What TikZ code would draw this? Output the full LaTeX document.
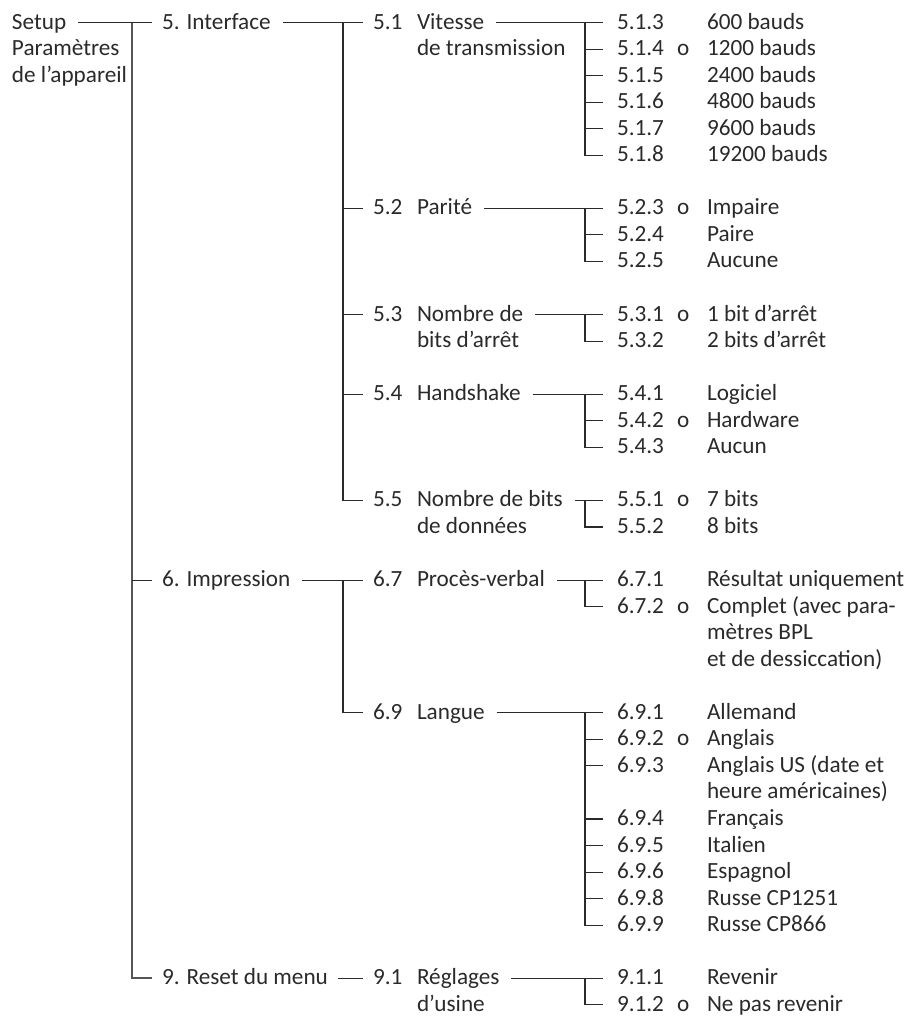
\documentclass[tikz,border=0pt]{standalone}
\usepackage{fontspec}
\setmainfont{Carlito}
\definecolor{ink}{HTML}{2A2A2A}
\newcommand\rowy[1]{\fpeval{29+26.55*(#1)}}
\newcommand\tickto[3]{\draw[conn] ([xshift=#2pt,yshift=6.5pt]#1.base west) -- ([xshift=#3pt,yshift=6.5pt]#1.base west);}
\newcommand\leafrow[4]{%
  \node[txt] (#1) at (617,\rowy{#2}) {#3};
  \node[txt] (#1v) at (707,\rowy{#2}) {#4};}
\newcommand\grouplines[3]{%
  \draw[conn] ([xshift=12pt,yshift=6.5pt]#1.base east) -- ([xshift=-14pt,yshift=6.5pt]#2.base west);
  \draw[conn] ([xshift=-32pt,yshift=6.5pt]#2.base west) -- ([xshift=-32pt,yshift=6.5pt]#3.base west) -- ([xshift=-14pt,yshift=6.5pt]#3.base west);}
\begin{document}
\begin{tikzpicture}[x=1pt,y=-1pt,
  txt/.style={anchor=base west,inner sep=0pt,outer sep=0pt,text=ink,font=\fontsize{23.2}{26.55}\selectfont},
  conn/.style={draw=ink,line width=1.1pt},
  maintrunk/.style={draw=ink!80,line width=1.7pt}]
\useasboundingbox (0,0) rectangle (908,1017);

% ---------- level 0
\node[txt] (setup)  at (12,\rowy{0}) {Setup};
\node[txt] (setupb) at (12,\rowy{1}) {Paramètres};
\node[txt] (setupc) at (12,\rowy{2}) {de l’appareil};

% ---------- level 1
\node[txt] (l5) at (162,\rowy{0})  {5. Interface};
\node[txt] (l6) at (162,\rowy{21}) {6. Impression};
\node[txt] (l9) at (162,\rowy{36}) {9. Reset du menu};

% ---------- level 2
\node[txt] (n51) at (373,\rowy{0})  {5.1};
\node[txt] (t51) at (417,\rowy{0})  {Vitesse};
\node[txt] (t51b) at (417,\rowy{1}) {de transmission};
\node[txt] (n52) at (373,\rowy{7})  {5.2};
\node[txt] (t52) at (417,\rowy{7})  {Parité};
\node[txt] (n53) at (373,\rowy{11}) {5.3};
\node[txt] (t53) at (417,\rowy{11}) {Nombre de};
\node[txt] (t53b) at (417,\rowy{12}) {bits d’arrêt};
\node[txt] (n54) at (373,\rowy{14}) {5.4};
\node[txt] (t54) at (417,\rowy{14}) {Handshake};
\node[txt] (n55) at (373,\rowy{18}) {5.5};
\node[txt] (t55) at (417,\rowy{18}) {Nombre de bits};
\node[txt] (t55b) at (417,\rowy{19}) {de données};
\node[txt] (n67) at (373,\rowy{21}) {6.7};
\node[txt] (t67) at (417,\rowy{21}) {Procès-verbal};
\node[txt] (n69) at (373,\rowy{26}) {6.9};
\node[txt] (t69) at (417,\rowy{26}) {Langue};
\node[txt] (n91) at (373,\rowy{36}) {9.1};
\node[txt] (t91) at (417,\rowy{36}) {Réglages};
\node[txt] (t91b) at (417,\rowy{37}) {d’usine};

% ---------- level 3 (leaves)
\leafrow{a513}{0}{5.1.3}{600 bauds}
\leafrow{a514}{1}{5.1.4}{1200 bauds}
\leafrow{a515}{2}{5.1.5}{2400 bauds}
\leafrow{a516}{3}{5.1.6}{4800 bauds}
\leafrow{a517}{4}{5.1.7}{9600 bauds}
\leafrow{a518}{5}{5.1.8}{19200 bauds}
\leafrow{a523}{7}{5.2.3}{Impaire}
\leafrow{a524}{8}{5.2.4}{Paire}
\leafrow{a525}{9}{5.2.5}{Aucune}
\leafrow{a531}{11}{5.3.1}{1 bit d’arrêt}
\leafrow{a532}{12}{5.3.2}{2 bits d’arrêt}
\leafrow{a541}{14}{5.4.1}{Logiciel}
\leafrow{a542}{15}{5.4.2}{Hardware}
\leafrow{a543}{16}{5.4.3}{Aucun}
\leafrow{a551}{18}{5.5.1}{7 bits}
\leafrow{a552}{19}{5.5.2}{8 bits}
\leafrow{a671}{21}{6.7.1}{Résultat uniquement}
\leafrow{a672}{22}{6.7.2}{Complet (avec para-}
\node[txt] (a672b) at (707,\rowy{23}) {mètres BPL};
\node[txt] (a672c) at (707,\rowy{24}) {et de dessiccation)};
\leafrow{a691}{26}{6.9.1}{Allemand}
\leafrow{a692}{27}{6.9.2}{Anglais}
\leafrow{a693}{28}{6.9.3}{Anglais US (date et}
\node[txt] (a693b) at (707,\rowy{29}) {heure américaines)};
\leafrow{a694}{30}{6.9.4}{Français}
\leafrow{a695}{31}{6.9.5}{Italien}
\leafrow{a696}{32}{6.9.6}{Espagnol}
\leafrow{a698}{33}{6.9.8}{Russe CP1251}
\leafrow{a699}{34}{6.9.9}{Russe CP866}
\leafrow{a911}{36}{9.1.1}{Revenir}
\leafrow{a912}{37}{9.1.2}{Ne pas revenir}

% default markers "o"
\node[txt] (o514) at (677,\rowy{1})  {o};
\node[txt] (o523) at (677,\rowy{7})  {o};
\node[txt] (o531) at (677,\rowy{11}) {o};
\node[txt] (o542) at (677,\rowy{15}) {o};
\node[txt] (o551) at (677,\rowy{18}) {o};
\node[txt] (o672) at (677,\rowy{22}) {o};
\node[txt] (o692) at (677,\rowy{27}) {o};
\node[txt] (o912) at (677,\rowy{37}) {o};

% ---------- connectors level 0 -> 1
\draw[conn] ([xshift=12pt,yshift=6.5pt]setup.base east) -- ([xshift=-10pt,yshift=6.5pt]l5.base west);
\draw[maintrunk] ([xshift=-30pt,yshift=6.5pt]l5.base west) -- ([xshift=-30pt,yshift=6.5pt]l9.base west) -- ([xshift=-10pt,yshift=6.5pt]l9.base west);
\tickto{l6}{-30}{-10}

% ---------- connectors level 1 -> 2
\draw[conn] ([xshift=12pt,yshift=6.5pt]l5.base east) -- ([xshift=-10pt,yshift=6.5pt]n51.base west);
\draw[conn] ([xshift=-30pt,yshift=6.5pt]n51.base west) -- ([xshift=-30pt,yshift=6.5pt]n55.base west) -- ([xshift=-10pt,yshift=6.5pt]n55.base west);
\tickto{n52}{-30}{-10}
\tickto{n53}{-30}{-10}
\tickto{n54}{-30}{-10}

\draw[conn] ([xshift=12pt,yshift=6.5pt]l6.base east) -- ([xshift=-10pt,yshift=6.5pt]n67.base west);
\draw[conn] ([xshift=-30pt,yshift=6.5pt]n67.base west) -- ([xshift=-30pt,yshift=6.5pt]n69.base west) -- ([xshift=-10pt,yshift=6.5pt]n69.base west);

\draw[conn] ([xshift=10pt,yshift=6.5pt]l9.base east) -- ([xshift=-10pt,yshift=6.5pt]n91.base west);

% ---------- connectors level 2 -> 3
\grouplines{t51}{a513}{a518}
\foreach \n in {a514,a515,a516,a517} {\tickto{\n}{-32}{-14}}
\grouplines{t52}{a523}{a525}
\tickto{a524}{-32}{-14}
\grouplines{t53}{a531}{a532}
\grouplines{t54}{a541}{a543}
\tickto{a542}{-32}{-14}
\grouplines{t55}{a551}{a552}
\grouplines{t67}{a671}{a672}
\grouplines{t69}{a691}{a699}
\foreach \n in {a692,a693,a694,a695,a696,a698} {\tickto{\n}{-32}{-14}}
\grouplines{t91}{a911}{a912}
\end{tikzpicture}
\end{document}
